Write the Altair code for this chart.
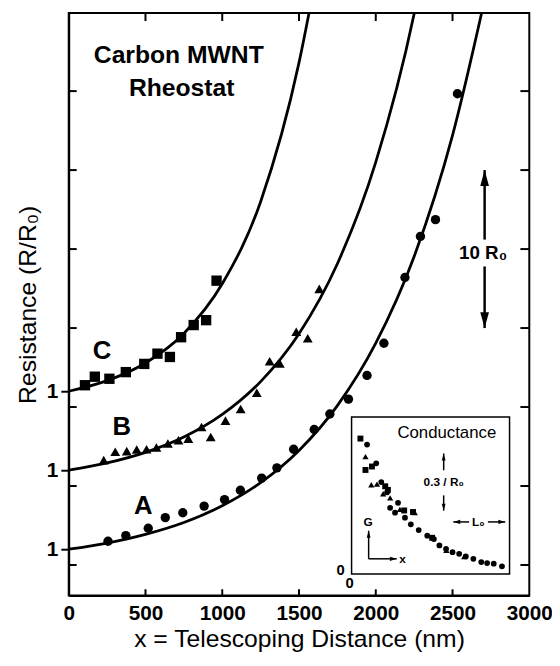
import altair as alt
import pandas as pd

# ---------------- data ----------------
series_names = ["A", "B", "C"]
series_offsets = [0, 5, 10]          # vertical offset of each trace (R0 units)
series_shapes = ["circle", "triangle-up", "square"]
series_sizes = [90, 110, 120]

# measured points: telescoping distance (nm) and R/R0
a_x = [256, 372, 518, 629, 743, 882, 1015, 1118, 1257, 1356, 1465, 1599, 1701, 1822, 1943, 2053, 2190, 2291, 2389, 2532]
a_r = [1.50, 1.86, 2.33, 3.00, 3.31, 3.73, 4.14, 4.73, 5.50, 6.15, 7.33, 8.58, 9.56, 10.50, 12.00, 14.04, 18.20, 20.80, 21.86, 29.83]
b_x = [228, 303, 378, 443, 507, 571, 646, 715, 779, 865, 925, 1021, 1120, 1225, 1309, 1375, 1482, 1557, 1632]
b_r = [1.64, 2.17, 2.21, 2.31, 2.33, 2.44, 2.69, 2.90, 3.00, 3.73, 3.10, 4.14, 4.88, 5.90, 7.90, 7.75, 9.77, 9.35, 12.48]
c_x = [106, 170, 265, 372, 492, 578, 659, 732, 814, 895, 963]
c_r = [1.38, 1.92, 1.79, 2.21, 2.73, 3.38, 3.17, 4.42, 5.19, 5.50, 8.00]

# fitted curves (R/R0)
curve_a_x = [0, 250, 500, 750, 1000, 1250, 1500, 1750, 2000, 2250, 2500, 2700]
curve_a_r = [1.00, 1.39, 1.94, 2.69, 3.75, 5.21, 7.25, 10.09, 14.04, 19.53, 27.2, 35.4]
curve_b_x = [0, 250, 500, 750, 1000, 1250, 1500, 1750, 2000, 2250, 2300]
curve_b_r = [1.00, 1.46, 2.13, 3.10, 4.53, 6.61, 9.64, 14.07, 20.5, 29.9, 32.3]
curve_c_x = [0, 250, 500, 750, 1000, 1250, 1500, 1600]
curve_c_r = [1.00, 1.67, 2.79, 4.66, 7.80, 13.0, 21.8, 26.7]

# inset: normalised conductance vs distance (arbitrary units 0-100, 0-1)
inset_sq_x = [5.6, 8.8, 12.9, 21.3, 23.0, 33.3, 38.9, 51.0]
inset_sq_y = [0.862, 0.662, 0.684, 0.558, 0.535, 0.404, 0.394, 0.230]
inset_tri_x = [8.8, 12.5, 16.1, 20.0, 24.4, 30.6, 40.0, 60.0, 71.3]
inset_tri_y = [0.747, 0.568, 0.572, 0.510, 0.484, 0.411, 0.390, 0.150, 0.111]
inset_circ_x = [9.8, 15.6, 18.8, 22.5, 24.4, 27.5, 29.4, 33.8, 37.5, 42.5, 47.9, 52.1, 55.6, 59.8, 63.9, 68.1, 72.3, 77.1, 82.1, 85.8, 90.0, 95.2]
inset_circ_y = [0.824, 0.704, 0.585, 0.520, 0.421, 0.390, 0.453, 0.358, 0.316, 0.279, 0.243, 0.222, 0.181, 0.159, 0.138, 0.128, 0.111, 0.096, 0.075, 0.069, 0.065, 0.048]

x_ticks = [0, 500, 1000, 1500, 2000, 2500, 3000]
x_inner_ticks = [500, 1000, 1500, 2000, 2500]
y_ticks = [0, 5, 10, 15, 20, 25, 30]
y_label_values = [1, 6, 11]

# ---------------- tables ----------------
offset_of = dict(zip(series_names, series_offsets))


def frame(name, xs, rs):
    return pd.DataFrame({"x": xs, "r": rs, "series": name,
                         "y": [r + offset_of[name] for r in rs]})


points = pd.concat([frame("A", a_x, a_r), frame("B", b_x, b_r), frame("C", c_x, c_r)])
curves = pd.concat([frame("A", curve_a_x, curve_a_r), frame("B", curve_b_x, curve_b_r),
                    frame("C", curve_c_x, curve_c_r)])
ytick_df = pd.DataFrame({"y": y_ticks})

FONT = "Liberation Sans"
W, H = 466.5, 590
Y_MIN, Y_MAX = -1.9375, 34.9375   # 16 px per R0 unit

X_SCALE = alt.Scale(domain=[0, 3000], nice=False, zero=False)
Y_SCALE = alt.Scale(domain=[Y_MIN, Y_MAX], nice=False, zero=False)

x_axis = alt.Axis(values=x_ticks, format="d", ticks=False, grid=False, domainColor="black", domainWidth=2,
                  labelFont=FONT, labelFontWeight="bold", labelFontSize=21, labelColor="black",
                  labelPadding=7, labelFlush=False, labelOverlap=False,
                  title="x = Telescoping Distance (nm)", titleFont=FONT, titleFontWeight="normal",
                  titleFontSize=25, titleColor="black", titlePadding=4)
y_axis = alt.Axis(values=y_label_values, labelExpr="'1'", tickSize=8, tickWidth=2, tickColor="black",
                  grid=False, domainColor="black", domainWidth=2,
                  labelFont=FONT, labelFontWeight="bold", labelFontSize=21, labelColor="black",
                  labelPadding=3, labelFlush=False, labelOverlap=False,
                  title="Resistance (R/R₀)", titleFont=FONT, titleFontWeight="normal",
                  titleFontSize=25, titleColor="black", titlePadding=6)


def mx(v):
    return alt.XDatum(v, type="quantitative", scale=X_SCALE, axis=x_axis)


def my(v):
    return alt.YDatum(v, type="quantitative", scale=Y_SCALE, axis=y_axis)


X = alt.X("x:Q", scale=X_SCALE, axis=x_axis)
Y = alt.Y("y:Q", scale=Y_SCALE, axis=y_axis)

curve_layer = alt.Chart(curves).mark_line(color="black", strokeWidth=2.8, clip=True,
                                          interpolate="monotone").encode(x=X, y=Y, detail="series:N")

point_layer = alt.Chart(points).mark_point(filled=True, opacity=1, color="black").encode(
    x=X, y=Y,
    shape=alt.Shape("series:N", scale=alt.Scale(domain=series_names, range=series_shapes), legend=None),
    size=alt.Size("series:N", scale=alt.Scale(domain=series_names, range=series_sizes), legend=None),
)

left_ticks = alt.Chart(ytick_df).mark_rule(color="black", strokeWidth=2).encode(
    y=Y, x=mx(0), x2=alt.X2Datum(52))
right_ticks = alt.Chart(ytick_df).mark_rule(color="black", strokeWidth=2).encode(
    y=Y, x=mx(2942), x2=alt.X2Datum(3000))


def vtick(v, y1, y2):
    return alt.Chart().mark_rule(color="black", strokeWidth=2).encode(
        x=mx(v), y=my(y1), y2=alt.Y2Datum(y2))


top_ticks = [vtick(v, Y_MAX, Y_MAX - 0.5) for v in x_inner_ticks]
bottom_ticks = [vtick(v, Y_MIN, Y_MIN + 0.4) for v in x_inner_ticks]


def main_text(txt, x, y, size):
    return alt.Chart().mark_text(text=txt, font=FONT, fontWeight="bold", fontSize=size,
                                 color="black", align="center", baseline="middle").encode(x=mx(x), y=my(y))


def main_rule(x1, y1, y2):
    return alt.Chart().mark_rule(color="black", strokeWidth=2.5).encode(x=mx(x1), y=my(y1), y2=alt.Y2Datum(y2))


UP = "M0,0L0.55,2L-0.55,2Z"
DOWN = "M0,0L0.55,-2L-0.55,-2Z"
LEFT = "M0,0L2,0.6L2,-0.6Z"
RIGHT = "M0,0L-2,0.6L-2,-0.6Z"


def main_head(x, y, shape, size):
    return alt.Chart().mark_point(shape=shape, filled=True, opacity=1, color="black", size=size).encode(
        x=mx(x), y=my(y))


arrow_x = 2709
main = alt.layer(
    curve_layer, point_layer, left_ticks, right_ticks, *top_ticks, *bottom_ticks,
    main_text("Carbon MWNT", 717, 32.25, 25),
    main_text("Rheostat", 736, 30.19, 25),
    main_text("C", 217, 13.52, 26),
    main_text("B", 346, 8.73, 26),
    main_text("A", 486, 3.73, 26),
    main_text("10 R₀", arrow_x - 10, 19.75, 19),
    main_rule(arrow_x, 20.6, 25),
    main_rule(arrow_x, 15, 18.9),
    main_head(arrow_x, 25, UP, 256),
    main_head(arrow_x, 15, DOWN, 256),
)

# ---------------- inset ----------------
IX_SCALE = alt.Scale(domain=[0, 100], range=[286.5, 446.5], nice=False, zero=False)
IY_SCALE = alt.Scale(domain=[0, 1], range=[568, 409], nice=False, zero=False)


def ix(v):
    return alt.XDatum(v, type="quantitative", scale=IX_SCALE, axis=None)


def iy(v):
    return alt.YDatum(v, type="quantitative", scale=IY_SCALE, axis=None)


IX = alt.X("x:Q", scale=IX_SCALE, axis=None)
IY = alt.Y("y:Q", scale=IY_SCALE, axis=None)

inset_box = alt.Chart().mark_rect(fill="white", stroke="black", strokeWidth=1.5).encode(
    x=ix(0), x2=alt.X2Datum(100), y=iy(0), y2=alt.Y2Datum(1))


def inset_points(xs, ys, shape, size):
    return alt.Chart(pd.DataFrame({"x": xs, "y": ys})).mark_point(
        shape=shape, filled=True, opacity=1, color="black", size=size).encode(x=IX, y=IY)


def inset_text(txt, x, y, size, weight="bold"):
    return alt.Chart().mark_text(text=txt, font=FONT, fontWeight=weight, fontSize=size, color="black",
                                 align="center", baseline="middle").encode(x=ix(x), y=iy(y))


def inset_vrule(x, y1, y2):
    return alt.Chart().mark_rule(color="black", strokeWidth=1.5).encode(x=ix(x), y=iy(y1), y2=alt.Y2Datum(y2))


def inset_hrule(y, x1, x2):
    return alt.Chart().mark_rule(color="black", strokeWidth=1.5).encode(y=iy(y), x=ix(x1), x2=alt.X2Datum(x2))


def inset_head(x, y, shape):
    return alt.Chart().mark_point(shape=shape, filled=True, opacity=1, color="black", size=49).encode(
        x=ix(x), y=iy(y))


inset = alt.layer(
    inset_box,
    inset_points(inset_sq_x, inset_sq_y, "square", 36),
    inset_points(inset_tri_x, inset_tri_y, "triangle-up", 40),
    inset_points(inset_circ_x, inset_circ_y, "circle", 34),
    inset_text("Conductance", 60.3, 0.90, 17, "normal"),
    inset_vrule(58.3, 0.767, 0.66),
    inset_vrule(58.3, 0.50, 0.403),
    inset_head(58.3, 0.767, UP),
    inset_head(58.3, 0.403, DOWN),
    inset_text("0.3 / R₀", 58.3, 0.585, 12),
    inset_hrule(0.331, 64.4, 74.4),
    inset_hrule(0.331, 86.3, 97.3),
    inset_head(64.4, 0.331, LEFT),
    inset_head(97.3, 0.331, RIGHT),
    inset_text("L₀", 80.2, 0.331, 12),
    inset_vrule(10.8, 0.096, 0.275),
    inset_hrule(0.096, 10.8, 28.6),
    inset_head(10.8, 0.275, UP),
    inset_head(28.6, 0.096, RIGHT),
    inset_text("G", 10.4, 0.33, 12),
    inset_text("x", 32.3, 0.096, 12),
    inset_text("0", -6.9, 0.023, 15),
    inset_text("0", -1.25, -0.061, 15),
)

chart = alt.layer(main, inset).resolve_scale(x="independent", y="independent").properties(
    width=W, height=H,
    autosize=alt.AutoSizeParams(type="none"),
    padding={"left": 61.5, "top": 1, "right": 23, "bottom": 57},
).configure_view(stroke="black", strokeWidth=2)

chart.save("out.html", embed_options={"renderer": "svg", "actions": False})
